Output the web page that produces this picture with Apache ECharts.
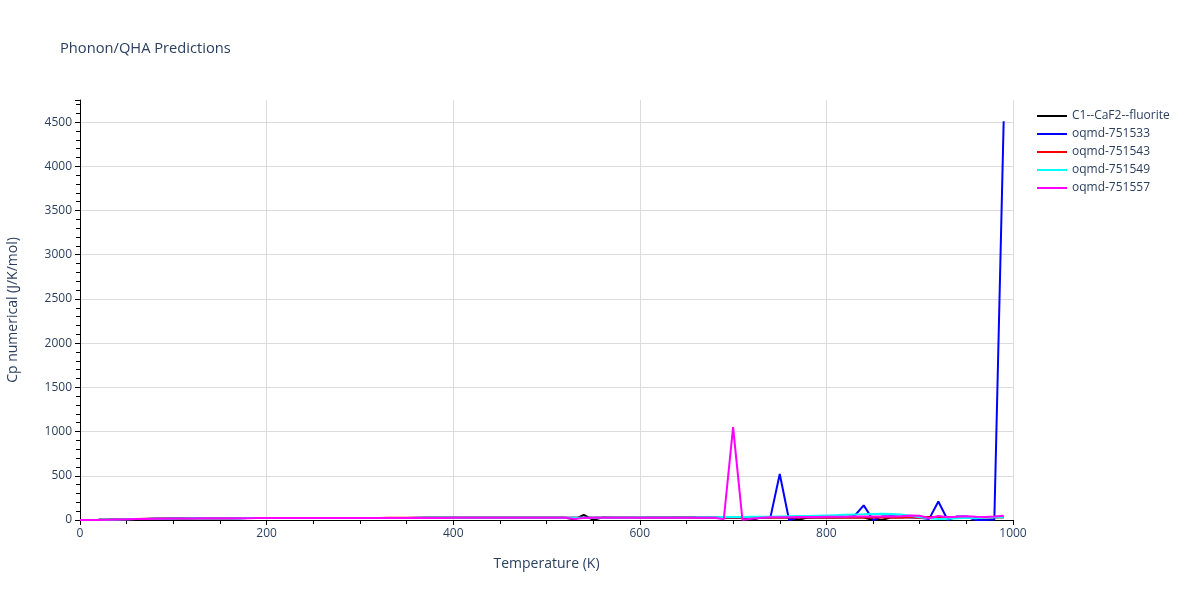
<!DOCTYPE html>
<html>
<head>
<meta charset="utf-8">
<script src="https://cdn.jsdelivr.net/npm/echarts@6/dist/echarts.min.js"></script>
<style>html,body{margin:0;padding:0;background:#fff;}#chart{width:1200px;height:600px;}</style>
</head>
<body>
<div id="chart"></div>
<script>
const temperatures = [0,10,20,30,40,50,60,70,80,90,100,110,120,130,140,150,160,170,180,190,200,210,220,230,240,250,260,270,280,290,300,310,320,330,340,350,360,370,380,390,400,410,420,430,440,450,460,470,480,490,500,510,520,530,540,550,560,570,580,590,600,610,620,630,640,650,660,670,680,690,700,710,720,730,740,750,760,770,780,790,800,810,820,830,840,850,860,870,880,890,900,910,920,930,940,950,960,970,980,990];
const seriesNames = ["C1--CaF2--fluorite","oqmd-751533","oqmd-751543","oqmd-751549","oqmd-751557"];
const cpFluorite = [0,0.3,1.5,3.5,6.0,8.5,10.6,12.4,14.0,15.4,16.6,17.6,18.4,19.1,19.7,20.2,20.6,21.0,21.3,21.6,21.9,22.1,22.3,22.5,22.7,22.8,23.0,23.1,23.2,23.3,23.4,23.5,23.6,23.7,23.8,23.9,24.0,24.1,24.2,24.3,24.4,24.5,24.6,24.7,24.8,24.9,25.0,25.1,25.2,25.3,25.4,25.5,25.6,8,58,2,27,26.5,26.6,26.7,26.8,26.9,27.0,27.1,27.2,27.3,27.4,27.5,27.6,27.7,27.8,27.9,3,28.1,28.2,28.3,28.4,2,28.6,28.7,28.8,28.9,29.0,29.1,29.2,0,2,29.5,29.6,29.7,35,29.9,30.0,30.1,30.2,30.3,30.4,30.5,30.6,30.7];
const cp751533 = [0,0.3,1.6,3.6,6.1,8.6,10.7,12.5,14.1,15.5,16.7,17.7,18.5,19.2,19.8,20.3,20.7,21.1,21.4,21.7,22.0,22.2,22.4,22.6,22.8,22.9,23.1,23.2,23.3,23.4,23.5,23.6,23.7,23.8,23.9,24.0,24.1,24.2,24.3,24.4,24.5,24.6,24.7,24.8,24.9,25.0,25.1,25.2,25.3,25.4,25.5,25.6,25.7,25.8,25.9,26.0,26.1,26.2,26.3,26.4,26.5,26.6,26.7,26.8,26.9,27.0,27.1,27.2,27.3,27.4,27.5,27.6,27.7,27.8,30,520,0,28,29,30,31,32,35,45,165,0,40,42,38,30,25,10,210,0,40,40,0,0,5,4510];
const cp751543 = [0,0.4,1.7,3.8,6.4,8.9,11.0,12.8,14.4,15.8,17.0,18.0,18.8,19.5,20.1,20.6,21.0,21.4,21.7,22.0,22.3,22.5,22.7,22.9,23.1,23.2,23.4,23.5,23.6,23.7,23.8,23.9,24.0,24.1,24.2,24.3,24.4,24.5,24.6,24.7,24.8,24.9,25.0,25.1,25.2,25.3,25.4,25.5,25.6,25.7,25.8,25.9,26.0,26.1,26.2,26.3,26.4,26.5,26.6,26.7,26.8,26.9,27.0,27.1,27.2,27.3,27.4,27.5,27.6,27.7,27.8,27.9,28.0,28.1,28.2,28.3,28.4,28.5,28.6,28.7,28.8,28.9,29.0,29.1,29.2,29.3,29.4,29.5,29.6,35,22,30,30.2,30.4,30.6,30.8,31.0,31.2,31.4,31.6];
const cp751549 = [0,0.3,1.5,3.5,6.0,8.5,10.6,12.4,14.0,15.4,16.6,17.6,18.4,19.1,19.7,20.2,20.6,21.0,21.3,21.6,21.9,22.1,22.3,22.5,22.7,22.8,23.0,23.1,23.2,23.3,23.4,23.5,23.6,23.7,23.8,23.9,24.0,24.1,24.2,24.3,24.4,24.5,24.6,24.7,24.8,24.9,25.0,25.1,25.2,25.3,25.4,25.5,25.6,25.7,25.8,25.9,26.0,26.2,26.4,26.6,27,27.5,28,28.5,29,29.5,30,31,32,33,34,35,36,37,38,40,42,44,46,49,52,55,58,61,64,68,70,68,62,48,32,20,12,15,20,25,20,28,30,32,40];
const cp751557 = [0,0.2,1.3,3.2,5.7,8.2,10.3,12.1,13.7,15.1,16.3,17.3,18.1,18.8,19.4,19.9,20.3,20.7,21.0,21.3,21.6,21.8,22.0,22.2,22.4,22.5,22.7,22.8,22.9,23.0,23.1,23.2,23.3,23.4,23.5,23.6,23.7,23.8,23.9,24.0,24.1,24.2,24.3,24.4,24.5,24.6,24.7,24.8,24.9,25.0,25.1,25.2,25.3,12,24,25.3,25.4,25.5,25.6,25.7,25.8,25.9,26.0,26.1,26.2,26.3,26.4,26.5,26.6,8,1050,2,15,25,30,31,32,33,34,35,36,37,38,38.5,39,39.5,40,40.5,42,50,48,20,45,30,38,42,38,35,40,48];
const xTicks = {min: 0, max: 1000, interval: 200};
const yTicks = {min: 0, max: 4750, interval: 500};

const colors = ["#000000","#0000ff","#ff0000","#00ffff","#ff00ff"];
const values = [cpFluorite, cp751533, cp751543, cp751549, cp751557];
const textColor = "#2a3f5f";
const fontFamily = "'Open Sans', Verdana, Arial, sans-serif";

const chart = echarts.init(document.getElementById('chart'));
chart.setOption({
  animation: false,
  backgroundColor: '#fff',
  textStyle: {fontFamily: fontFamily},
  title: {
    text: 'Phonon/QHA Predictions',
    left: 55, top: 36,
    textStyle: {fontSize: 14.7, fontWeight: 'normal', color: textColor, fontFamily: fontFamily}
  },
  legend: {
    orient: 'vertical',
    left: 1032, top: 105,
    itemWidth: 30, itemHeight: 12, itemGap: 6,
    icon: 'path://M0,0 L30,0 L30,2 L0,2 Z',
    textStyle: {fontSize: 12, color: textColor, fontFamily: fontFamily},
    data: seriesNames
  },
  grid: {left: 80, right: 187, top: 100, bottom: 80, containLabel: false, outerBoundsMode: 'none'},
  xAxis: {
    type: 'value',
    min: xTicks.min, max: xTicks.max, interval: xTicks.interval,
    name: 'Temperature (K)', nameLocation: 'middle', nameGap: 37,
    nameTextStyle: {fontSize: 14, color: textColor},
    axisLine: {show: true, lineStyle: {color: '#000', width: 1}},
    axisTick: {show: true, length: 5, lineStyle: {color: '#000'}},
    minorTick: {show: true, splitNumber: 4, length: 4, lineStyle: {color: '#000'}},
    axisLabel: {fontSize: 12, color: textColor, margin: 8,
      formatter: function (v) { return String(v); }},
    splitLine: {show: true, lineStyle: {color: '#dcdcdc', width: 1}}
  },
  yAxis: {
    type: 'value',
    min: yTicks.min, max: yTicks.max, interval: yTicks.interval,
    name: 'Cp numerical (J/K/mol)', nameLocation: 'middle', nameGap: 60,
    nameTextStyle: {fontSize: 14, color: textColor},
    axisLine: {show: true, lineStyle: {color: '#000', width: 1}},
    axisTick: {show: true, length: 5, lineStyle: {color: '#000'}},
    minorTick: {show: true, splitNumber: 5, length: 4, lineStyle: {color: '#000'}},
    axisLabel: {fontSize: 12, color: textColor, margin: 8, showMaxLabel: false,
      formatter: function (v) { return (v % 500 === 0) ? String(v) : ''; }},
    splitLine: {show: true, showMaxLine: false, lineStyle: {color: '#dcdcdc', width: 1}}
  },
  series: seriesNames.map(function (name, k) {
    return {
      name: name,
      type: 'line',
      symbol: 'none',
      lineStyle: {color: colors[k], width: 2},
      itemStyle: {color: colors[k]},
      data: temperatures.map(function (t, i) { return [t, values[k][i]]; })
    };
  })
});
</script>
</body>
</html>
